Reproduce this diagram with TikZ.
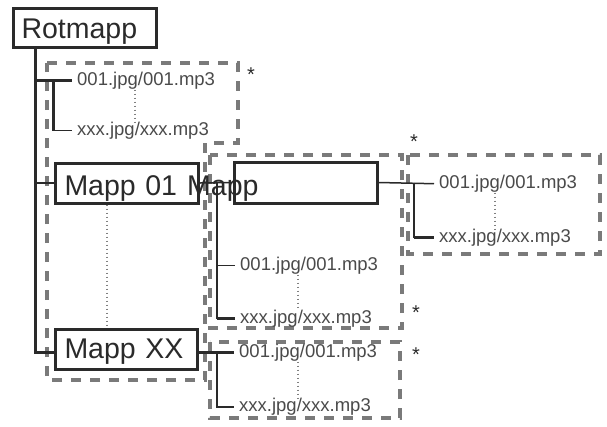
\documentclass[tikz,border=0pt]{standalone}
\usepackage{fontspec}
\setmainfont{Liberation Sans}
\definecolor{ink}{HTML}{2A2A2A}
\definecolor{fileink}{HTML}{4A4A4A}
\definecolor{dashgray}{HTML}{7A7A7A}
\begin{document}
\begin{tikzpicture}[x=1pt,y=-1pt,
  folder/.style={draw=ink, line width=3pt, rectangle, inner ysep=0pt, align=left,
    font=\fontsize{28.5}{30}\selectfont, text=ink},
  bigtext/.style={inner sep=0pt, font=\fontsize{28.5}{30}\selectfont, text=ink},
  filetext/.style={inner xsep=5pt, inner ysep=0pt, anchor=base west,
    font=\fontsize{18.5}{20}\selectfont, text=fileink},
  startext/.style={inner sep=0pt, font=\fontsize{20}{20}\selectfont, text=ink},
  heavy/.style={draw=ink, line width=3pt},
  medium/.style={draw=ink, line width=2.2pt},
  light/.style={draw=ink, line width=1.5pt},
  dotline/.style={draw=gray, line width=1.5pt, dash pattern=on 1.5pt off 2.5pt},
  dashbox/.style={draw=dashgray, line width=3.2pt, dash pattern=on 10pt off 9pt}]
\useasboundingbox (0,0) rectangle (607,426);

% dashed groups
\draw[dashbox] (47,63) -- (238,63) -- (238,143) -- (205,143) -- (205,380) -- (47,380) -- cycle;
\draw[dashbox] (210,155) rectangle (402,328);
\draw[dashbox] (408,155) rectangle (600,254);
\draw[dashbox] (210,342) rectangle (400,418);

% folders
\node[folder, anchor=base west, text width=127pt, inner xsep=8pt, text height=30pt, text depth=9pt] (rot) at (12,38) {Rotmapp};
\node[folder, anchor=base west, text width=125pt, inner xsep=9pt, text height=32pt, text depth=8pt] (m01) at (54,195) {Mapp 01};
\node[folder, anchor=base west, text width=124pt, inner xsep=9pt, text height=29pt, text depth=11pt] (mxx) at (54,358) {Mapp XX};
\node[draw=ink, line width=3pt, minimum width=143pt, minimum height=41pt, inner sep=0pt] (m2) at (305.5,182.5) {};
\node[bigtext, anchor=base west] (m2txt) at (187,195) {Mapp};

% files
\node[filetext] (r1) at (72,85.5) {001.jpg/001.mp3};
\node[filetext] (r2) at (72,135.5) {xxx.jpg/xxx.mp3};
\node[filetext] (a1) at (235,270.5) {001.jpg/001.mp3};
\node[filetext] (a2) at (235,323.5) {xxx.jpg/xxx.mp3};
\node[filetext] (b1) at (434,188.5) {001.jpg/001.mp3};
\node[filetext] (b2) at (434,242.5) {xxx.jpg/xxx.mp3};
\node[filetext] (c1) at (234,357.5) {001.jpg/001.mp3};
\node[filetext] (c2) at (234,411.5) {xxx.jpg/xxx.mp3};

% stars
\node[startext] (s1) at (251,75) {*};
\node[startext] (s2) at (414,142) {*};
\node[startext] (s3) at (416,313) {*};
\node[startext] (s4) at (416,355) {*};

% tree guide coordinates
\coordinate (tx) at (35,0);
\coordinate (v0) at (53,0);
\coordinate (v1) at (217,0);
\coordinate (v2) at (414,0);
\coordinate (d0) at (135,0);
\coordinate (d1) at (107,0);
\coordinate (d2) at (298,0);
\coordinate (d3) at (495,0);

% root tree
\draw[heavy] (rot.south -| tx) |- (mxx.west |- c1.west);
\draw[light] (tx |- m01.west) -- (m01.west);
\draw[heavy] (tx |- r1.west) -- (r1.west);
\draw[heavy] (v0 |- r1.west) -- (v0 |- r2.west);
\draw[light] (v0 |- r2.west) -- (r2.west);

% Mapp 01 tree
\draw[light] (m01.east) -- (m2.west);
\draw[medium] (v1 |- m01.east) -- (v1 |- a2.west);
\draw[heavy] (v1 |- a2.west) -- (a2.west);
\draw[light] (v1 |- a1.west) -- (a1.west);

% Mapp tree
\draw[light] (m2.east) -- (b1.west);
\draw[medium] (v2 |- m2.east) -- (v2 |- b2.west);
\draw[heavy] (v2 |- b2.west) -- (b2.west);

% Mapp XX tree
\draw[heavy] (mxx.east |- c1.west) -- (c1.west);
\draw[medium] (v1 |- c1.west) |- (c2.west);

% dotted continuations
\draw[dotline] (r1.south -| d0) -- (r2.north -| d0);
\draw[dotline] (m01.south -| d1) -- (mxx.north -| d1);
\draw[dotline] (a1.south -| d2) -- (a2.north -| d2);
\draw[dotline] (b1.south -| d3) -- (b2.north -| d3);
\draw[dotline] (c1.south -| d2) -- (c2.north -| d2);
\end{tikzpicture}
\end{document}
